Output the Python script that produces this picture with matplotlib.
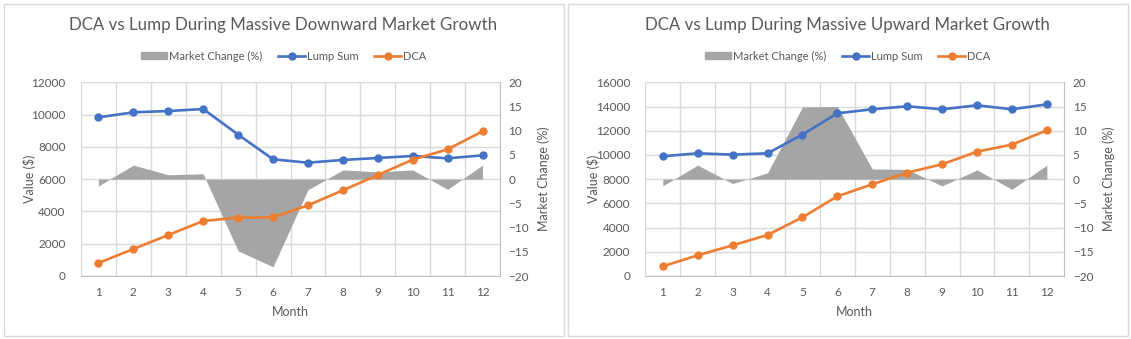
import matplotlib.pyplot as plt
from matplotlib.patches import Rectangle, Patch
from matplotlib.lines import Line2D

plt.rcParams['font.family'] = ['Lato', 'DejaVu Sans']

months = list(range(1, 13))

# massive downward market
down_lump = [9830, 10140, 10220, 10345, 8760, 7230, 7020, 7190, 7310, 7435, 7290, 7475]
down_dca = [805, 1673, 2540, 3408, 3615, 3635, 4378, 5308, 6258, 7208, 7848, 8962]
down_market = [-1.4, 2.9, 0.9, 1.1, -14.8, -18.1, -2.2, 1.9, 1.5, 1.9, -2.1, 2.9]

# massive upward market
up_lump = [9890, 10135, 10025, 10135, 11680, 13440, 13770, 14020, 13770, 14100, 13770, 14180]
up_dca = [800, 1708, 2534, 3387, 4847, 6582, 7574, 8538, 9226, 10273, 10851, 12035]
up_market = [-1.4, 2.9, -0.9, 1.3, 14.9, 15.0, 2.1, 2.0, -1.4, 1.9, -2.1, 2.9]

BLUE = '#4472C4'
ORANGE = '#ED7D31'
GRAY = '#A5A5A5'
TEXT = '#595959'
GRID = '#D9D9D9'

W, H = 1131, 339
fig = plt.figure(figsize=(W / 100, H / 100), dpi=100)


def px(x, y):
    return x / W, 1 - y / H


def draw_panel(box_x0, box_x1, plot_x0, title, lump, dca, market, ymax):
    # chart border
    bx, by = px(box_x0, 335.5)
    fig.patches.append(Rectangle((bx, by), (box_x1 - box_x0) / W, (335.5 - 3.5) / H,
                                 transform=fig.transFigure, fill=False,
                                 edgecolor=GRID, linewidth=1))
    cx = (box_x0 + box_x1) / 2
    fig.text(cx / W, 1 - 25 / H, title, ha='center', va='center',
             fontsize=12.2, color=TEXT)

    left, bottom = px(plot_x0, 276)
    ax = fig.add_axes([left, bottom, 419 / W, 193.7 / H])
    ax.set_xlim(0.5, 12.5)
    ax.set_ylim(0, ymax)
    ax.set_yticks(range(0, ymax + 1, 2000))
    ax.set_xticks(months)
    ax.set_xticks([m + 0.5 for m in range(0, 12)], minor=True)
    ax.grid(axis='y', color=GRID, linewidth=1)
    ax.grid(axis='x', which='minor', color=GRID, linewidth=1)
    ax.set_axisbelow(True)
    for s in ['top', 'right', 'left']:
        ax.spines[s].set_visible(False)
    ax.spines['bottom'].set_color('#BFBFBF')
    ax.tick_params(which='both', length=0, colors=TEXT, labelsize=8.5)
    ax.tick_params(axis='y', pad=11)
    ax.tick_params(axis='x', pad=8)
    ax.set_xlabel('Month', color=TEXT, fontsize=9, labelpad=6)
    ax.set_ylabel('Value ($)', color=TEXT, fontsize=9)
    ax.yaxis.set_label_coords(-0.107, 0.5)

    ax2 = ax.twinx()
    ax2.fill_between(months, market, 0, color=GRAY, linewidth=0)
    ax2.set_ylim(-20, 20)
    ax2.set_yticks(range(-20, 21, 5))
    for s in ['top', 'left', 'bottom']:
        ax2.spines[s].set_visible(False)
    ax2.spines['right'].set_color('#BFBFBF')
    ax2.tick_params(length=0, colors=TEXT, labelsize=8.5, pad=6)
    ax2.set_ylabel('Market Change (%)', color=TEXT, fontsize=9)
    ax2.yaxis.set_label_coords(1.09, 0.5)

    ax3 = ax.twinx()
    ax3.set_ylim(0, ymax)
    ax3.axis('off')
    ax3.plot(months, lump, color=BLUE, lw=1.9, marker='o', ms=5)
    ax3.plot(months, dca, color=ORANGE, lw=1.9, marker='o', ms=5)

    handles = [Patch(color=GRAY),
               Line2D([], [], color=BLUE, lw=1.9, marker='o', ms=5),
               Line2D([], [], color=ORANGE, lw=1.9, marker='o', ms=5)]
    fig.legend(handles, ['Market Change (%)', 'Lump Sum', 'DCA'],
               loc='center', bbox_to_anchor=(cx / W, 1 - 56 / H), ncol=3,
               frameon=False, fontsize=8, labelcolor=TEXT, handlelength=2.4,
               handleheight=0.6, columnspacing=1.4, handletextpad=0.2)


draw_panel(3.5, 563.5, 81, 'DCA vs Lump During Massive Downward Market Growth',
           down_lump, down_dca, down_market, 12000)
draw_panel(567.5, 1127.5, 645.3, 'DCA vs Lump During Massive Upward Market Growth',
           up_lump, up_dca, up_market, 16000)

fig.savefig('out.png', dpi=100)
